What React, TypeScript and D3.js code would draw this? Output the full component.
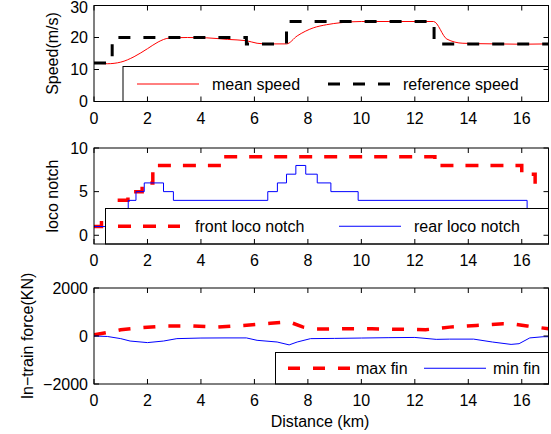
import React from "react";
import * as d3 from "d3";

const W = 551;
const H = 434;
const distTicks = [0, 2, 4, 6, 8, 10, 12, 14, 16];

// speed panel
const refSpeedKm = [0, 0.68, 5.7, 7.2, 12.72, 17];
const refSpeed = [12, 20, 18, 25, 18, 18];
const meanSpeedKm = [0, 0.5, 1, 1.5, 2, 2.4, 2.8, 3.5, 4.2, 5, 5.7, 6.1, 6.5, 7.2, 7.6, 8.2, 8.7, 9.2, 10, 11, 12.7, 13.2, 13.8, 15, 16, 17];
const meanSpeed = [12, 11.8, 12.3, 14, 16.5, 18.6, 19.8, 20, 19.9, 19.4, 19, 18.2, 18, 18, 20.5, 23, 24, 24.6, 25, 25, 25, 19.5, 18.2, 18, 17.9, 18];
const speedTicks = [0, 10, 20, 30];

// notch panel
const frontNotchKm = [0, 0.28, 0.95, 1.27, 1.8, 2.2, 4.85, 12.75, 16.0, 16.5, 16.6];
const frontNotch = [1, 2, 4, 5, 6, 8, 9, 8, 7, 5, 5];
const rearNotchKm = [0, 0.45, 0.8, 1.28, 1.57, 1.88, 2.6, 2.97, 6.5, 6.86, 7.2, 7.55, 7.92, 8.35, 8.86, 9.88, 16.2, 16.6];
const rearNotch = [1, 2, 3, 4, 5, 6, 5, 4, 5, 6, 7, 8, 7, 6, 5, 4, 0, 0];
const notchTicks = [0, 5, 10];

// force panel
const maxFinKm = [0, 0.5, 1.0, 1.8, 2.7, 3.7, 4.6, 5.6, 6.6, 7.3, 7.8, 8.3, 9.3, 10.4, 11.4, 12.4, 13.3, 14.3, 15.3, 15.7, 16.2, 17];
const maxFin = [50, 150, 260, 350, 420, 420, 370, 440, 530, 590, 380, 290, 300, 300, 280, 260, 370, 440, 510, 500, 420, 300];
const minFinKm = [0, 0.5, 1.0, 1.35, 2.0, 2.6, 3.1, 4.0, 4.9, 5.7, 6.1, 6.85, 7.3, 7.6, 8.1, 9.0, 10.0, 11.0, 12.0, 12.8, 13.3, 14.2, 14.9, 15.6, 15.9, 16.3, 16.8, 17];
const minFin = [0, -20, -110, -210, -275, -210, -110, -85, -80, -80, -180, -250, -370, -250, -110, -100, -85, -70, -60, -140, -130, -130, -250, -350, -320, -80, -30, -30];
const forceTicks = [-2000, 0, 2000];

const font = "'Liberation Sans', Arial, Helvetica, sans-serif";
const fs = 16;
const left = 94;
const right = 548.5;
const x = d3.scaleLinear().domain([0, 17]).range([left, right]);

type Series = {
  xs: number[];
  ys: number[];
  color: string;
  width: number;
  dash?: string;
  curve: d3.CurveFactory;
  label: string;
};

type PanelProps = {
  id: string;
  top: number;
  bottom: number;
  yDomain: [number, number];
  yTicks: number[];
  yLabel: string;
  yLabelX: number;
  series: Series[];
  legend: { x0: number; y0: number; y1: number; items: { lx: number; tx: number }[] };
};

const fmt = (v: number) => (v < 0 ? "\u2212" + Math.abs(v) : String(v));

const Panel = ({ id, top, bottom, yDomain, yTicks, yLabel, yLabelX, series, legend }: PanelProps) => {
  const y = d3.scaleLinear().domain(yDomain).range([bottom, top]);
  const tick = 5;
  const ly = (legend.y0 + legend.y1) / 2;
  return (
    <g>
      <defs>
        <clipPath id={id}>
          <rect x={left} y={top} width={right - left} height={bottom - top} />
        </clipPath>
      </defs>
      <g clipPath={`url(#${id})`}>
        {series.map((s, i) => {
          const line = d3
            .line<number>()
            .x((d, j) => x(s.xs[j]))
            .y((d) => y(d))
            .curve(s.curve);
          return (
            <path key={i} d={line(s.ys) || ""} fill="none" stroke={s.color} strokeWidth={s.width} strokeDasharray={s.dash} />
          );
        })}
      </g>
      {/* legend */}
      <rect x={legend.x0} y={legend.y0} width={right - legend.x0} height={legend.y1 - legend.y0} fill="#fff" stroke="#000" strokeWidth={1} />
      {series.map((s, i) => (
        <g key={i}>
          <line x1={legend.items[i].lx} x2={legend.items[i].lx + 62} y1={ly} y2={ly} stroke={s.color} strokeWidth={s.width} strokeDasharray={s.dash} />
          <text x={legend.items[i].tx} y={ly + 5.5} fontSize={fs} fontFamily={font}>
            {s.label}
          </text>
        </g>
      ))}
      {/* frame + ticks */}
      <rect x={left} y={top} width={right - left} height={bottom - top} fill="none" stroke="#000" strokeWidth={1} />
      {distTicks.map((t) => (
        <g key={t}>
          <line x1={x(t)} x2={x(t)} y1={bottom} y2={bottom - tick} stroke="#000" />
          <line x1={x(t)} x2={x(t)} y1={top} y2={top + tick} stroke="#000" />
          <text x={x(t)} y={bottom + 22} textAnchor="middle" fontSize={fs} fontFamily={font}>
            {t}
          </text>
        </g>
      ))}
      {yTicks.map((t) => (
        <g key={t}>
          <line x1={left} x2={left + tick} y1={y(t)} y2={y(t)} stroke="#000" />
          <line x1={right} x2={right - tick} y1={y(t)} y2={y(t)} stroke="#000" />
          <text x={left - 6} y={Math.max(y(t) + 5.7, 12.5)} textAnchor="end" fontSize={fs} fontFamily={font}>
            {fmt(t)}
          </text>
        </g>
      ))}
      <text transform={`translate(${yLabelX},${(top + bottom) / 2}) rotate(-90)`} textAnchor="middle" fontSize={fs} fontFamily={font}>
        {yLabel}
      </text>
    </g>
  );
};

export default function App() {
  return (
    <svg width={W} height={H} style={{ position: "absolute", left: 0, top: 0, background: "#fff" }}>
      <rect width={W} height={H} fill="#fff" />
      <Panel
        id="c1"
        top={5.5}
        bottom={101.5}
        yDomain={[0, 30]}
        yTicks={speedTicks}
        yLabel="Speed(m/s)"
        yLabelX={58}
        series={[
          { xs: meanSpeedKm, ys: meanSpeed, color: "#ff0000", width: 1, curve: d3.curveMonotoneX, label: "mean speed" },
          { xs: refSpeedKm, ys: refSpeed, color: "#000", width: 3, dash: "12,13", curve: d3.curveStepAfter, label: "reference speed" },
        ]}
        legend={{ x0: 123, y0: 66.5, y1: 101.5, items: [{ lx: 137, tx: 212 }, { lx: 328, tx: 403 }] }}
      />
      <Panel
        id="c2"
        top={148}
        bottom={244}
        yDomain={[-1, 10]}
        yTicks={notchTicks}
        yLabel="loco notch"
        yLabelX={58}
        series={[
          { xs: frontNotchKm, ys: frontNotch, color: "#ff0000", width: 3.5, dash: "13,12", curve: d3.curveStepAfter, label: "front loco notch" },
          { xs: rearNotchKm, ys: rearNotch, color: "#0000ff", width: 1, curve: d3.curveStepAfter, label: "rear loco notch" },
        ]}
        legend={{ x0: 105.5, y0: 208.5, y1: 244, items: [{ lx: 118, tx: 195 }, { lx: 339, tx: 414 }] }}
      />
      <Panel
        id="c3"
        top={288}
        bottom={384}
        yDomain={[-2000, 2000]}
        yTicks={forceTicks}
        yLabel={"In\u2212train force(KN)"}
        yLabelX={33}
        series={[
          { xs: maxFinKm, ys: maxFin, color: "#ff0000", width: 3.5, dash: "12,13", curve: d3.curveLinear, label: "max fin" },
          { xs: minFinKm, ys: minFin, color: "#0000ff", width: 1, curve: d3.curveLinear, label: "min fin" },
        ]}
        legend={{ x0: 275.5, y0: 352.5, y1: 384, items: [{ lx: 288, tx: 356 }, { lx: 424, tx: 493 }] }}
      />
      <text x={320} y={427} textAnchor="middle" fontSize={fs} fontFamily={font}>
        Distance (km)
      </text>
    </svg>
  );
}
